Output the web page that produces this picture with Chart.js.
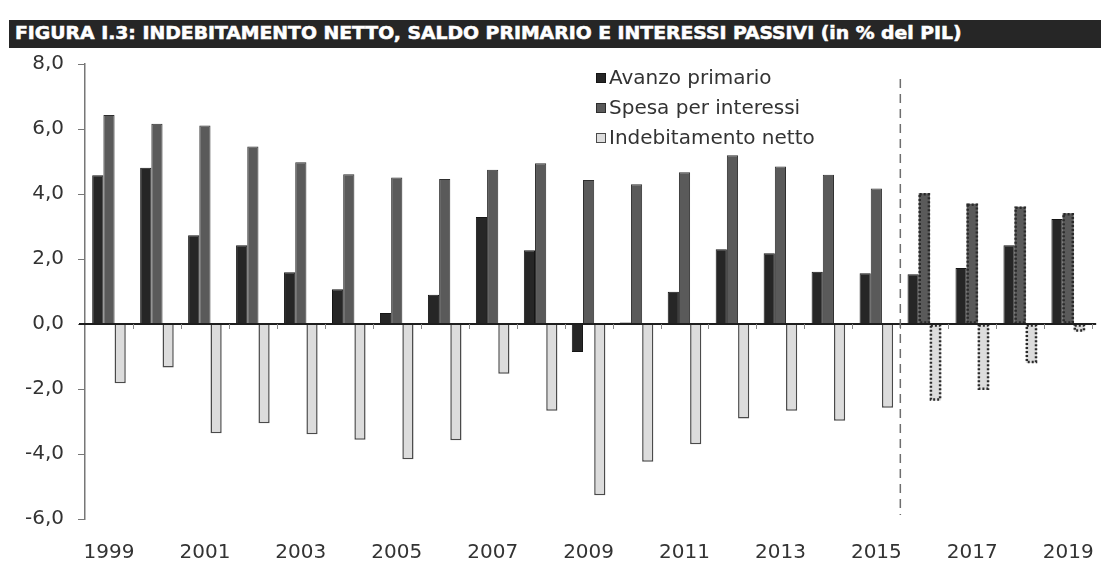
<!DOCTYPE html>
<html>
<head>
<meta charset="utf-8">
<script src="https://cdn.jsdelivr.net/npm/chart.js@4/dist/chart.umd.min.js"></script>
<style>
  html, body { margin: 0; padding: 0; background: #fff; }
  #wrap { position: relative; width: 1108px; height: 561px; overflow: hidden; }
  #chart { position: absolute; left: 0; top: 0; }
  #title {
    position: absolute; left: 9px; top: 20px; width: 1092px; height: 28px;
    background: #262626; overflow: hidden;
  }
  #title span {
    position: absolute; left: 6px; top: 3px; white-space: nowrap;
    font-family: "Liberation Sans Narrow", "DejaVu Sans Condensed", "Liberation Sans", sans-serif;
    font-weight: bold; font-size: 17px; color: #fff; transform-origin: 0 0;
    -webkit-text-stroke: 0.5px #fff;
  }
  #legend {
    position: absolute; left: 596px; top: 62px;
    font-family: "DejaVu Sans", sans-serif; font-size: 20px; color: #333;
  }
  #legend div { height: 30px; line-height: 30px; white-space: nowrap; }
  #legend i {
    display: inline-block; width: 8px; height: 8px; margin-right: 3px;
    vertical-align: 1px; border: 1px solid #222;
  }
</style>
</head>
<body>
<div id="wrap">
  <canvas id="chart" width="1108" height="561"></canvas>
  <div id="title"><span id="titleText">FIGURA I.3: INDEBITAMENTO NETTO, SALDO PRIMARIO E INTERESSI PASSIVI (in % del PIL)</span></div>
  <div id="legend"></div>
</div>
<script>
// dati (in % del PIL)
const anni = ['1999', '2000', '2001', '2002', '2003', '2004', '2005', '2006', '2007', '2008', '2009',
  '2010', '2011', '2012', '2013', '2014', '2015', '2016', '2017', '2018', '2019'];
const avanzoPrimario = [4.58, 4.81, 2.73, 2.42, 1.59, 1.07, 0.34, 0.90, 3.29, 2.27, -0.86,
  0.05, 0.99, 2.30, 2.18, 1.61, 1.56, 1.53, 1.72, 2.42, 3.23];
const spesaInteressi = [6.43, 6.16, 6.11, 5.46, 4.98, 4.61, 4.51, 4.46, 4.75, 4.95, 4.43,
  4.30, 4.67, 5.19, 4.85, 4.59, 4.17, 4.02, 3.70, 3.61, 3.41];
const indebitamentoNetto = [-1.82, -1.34, -3.36, -3.05, -3.39, -3.56, -4.16, -3.58, -1.53, -2.67, -5.27,
  -4.24, -3.70, -2.91, -2.67, -2.98, -2.58, -2.35, -2.02, -1.20, -0.23];
const primoAnnoPrevisione = 17; // 2016 in poi: previsioni
const yTicks = [-6, -4, -2, 0, 2, 4, 6, 8];

const serie = [
  { label: 'Avanzo primario', data: avanzoPrimario, bg: '#262626', border: '#151515' },
  { label: 'Spesa per interessi', data: spesaInteressi, bg: '#5a5a5a', border: '#2e2e2e' },
  { label: 'Indebitamento netto', data: indebitamentoNetto, bg: '#dcdcdc', border: '#4a4a4a' }
];

// titolo: adatta la larghezza del testo
const t = document.getElementById('titleText');
t.style.transform = 'scaleX(' + (947 / t.offsetWidth) + ')';

// legenda html
const legend = document.getElementById('legend');
serie.forEach(s => {
  const row = document.createElement('div');
  row.innerHTML = '<i style="background:' + s.bg + ';border-color:' + s.border + '"></i>' + s.label;
  legend.appendChild(row);
});

const decorazioni = {
  id: 'decorazioni',
  afterDatasetsDraw(chart) {
    const ctx = chart.ctx;
    const x = chart.scales.x;
    const y = chart.scales.y;
    const area = chart.chartArea;
    const y0 = y.getPixelForValue(0);
    const step = (area.right - area.left) / anni.length;
    ctx.save();

    // bordi puntinati per le previsioni
    [1, 2].forEach(d => {
      const meta = chart.getDatasetMeta(d);
      meta.data.forEach((bar, i) => {
        if (i < primoAnnoPrevisione) return;
        const left = bar.x - bar.width / 2;
        const top = Math.min(bar.y, bar.base);
        const h = Math.abs(bar.base - bar.y);
        ctx.setLineDash([2, 2]);
        ctx.lineWidth = 2.5;
        ctx.strokeStyle = '#2a2a2a';
        ctx.strokeRect(left + 1, top + 1, bar.width - 2, h - 2);
      });
    });

    // linea dello zero e tacche di categoria
    ctx.setLineDash([]);
    ctx.strokeStyle = '#1e1e1e';
    ctx.lineWidth = 2;
    ctx.beginPath();
    ctx.moveTo(area.left - 6, y0);
    ctx.lineTo(area.right + 4, y0);
    ctx.stroke();
    ctx.strokeStyle = '#888';
    ctx.lineWidth = 1;
    for (let i = 1; i <= anni.length; i++) {
      const px = Math.round(area.left + i * step) + 0.5;
      ctx.beginPath();
      ctx.moveTo(px, y0);
      ctx.lineTo(px, y0 + 5);
      ctx.stroke();
    }

    // separatore previsioni
    const xs = (x.getPixelForValue(primoAnnoPrevisione - 1) + x.getPixelForValue(primoAnnoPrevisione)) / 2;
    ctx.strokeStyle = '#6e6e6e';
    ctx.lineWidth = 1.5;
    ctx.setLineDash([9, 6]);
    ctx.beginPath();
    ctx.moveTo(xs, area.top + 15);
    ctx.lineTo(xs, area.bottom - 4);
    ctx.stroke();
    ctx.restore();
  }
};

new Chart(document.getElementById('chart'), {
  type: 'bar',
  data: {
    labels: anni,
    datasets: serie.map((s, d) => ({
      label: s.label,
      data: s.data,
      backgroundColor: s.bg,
      borderColor: s.border,
      borderWidth: c => (d > 0 && c.dataIndex >= primoAnnoPrevisione) ? 0 : (d === 2 ? 1.5 : 1),
      categoryPercentage: 0.7,
      barPercentage: 1.0
    }))
  },
  options: {
    responsive: false,
    animation: false,
    layout: { padding: { left: 0, right: 15, top: 64, bottom: 0 } },
    plugins: {
      legend: { display: false },
      tooltip: { enabled: false }
    },
    scales: {
      x: {
        grid: { display: false },
        border: { display: false },
        ticks: {
          autoSkip: false,
          maxRotation: 0,
          padding: 14,
          color: '#333',
          font: { family: 'DejaVu Sans', size: 20 },
          callback: (v, i) => (i % 2 === 0 ? anni[i] : '')
        },
        afterFit: s => { s.height = 42; }
      },
      y: {
        min: -6,
        max: 8,
        afterBuildTicks: s => { s.ticks = yTicks.map(v => ({ value: v })); },
        grid: {
          color: 'transparent',
          tickColor: '#777',
          tickLength: 7,
          drawTicks: true
        },
        border: { display: true, color: '#777', width: 1.5 },
        ticks: {
          padding: 14,
          color: '#333',
          font: { family: 'DejaVu Sans', size: 20 },
          callback: v => v.toFixed(1).replace('.', ',')
        },
        afterFit: s => { s.width = 85; }
      }
    }
  },
  plugins: [decorazioni]
});
</script>
</body>
</html>
